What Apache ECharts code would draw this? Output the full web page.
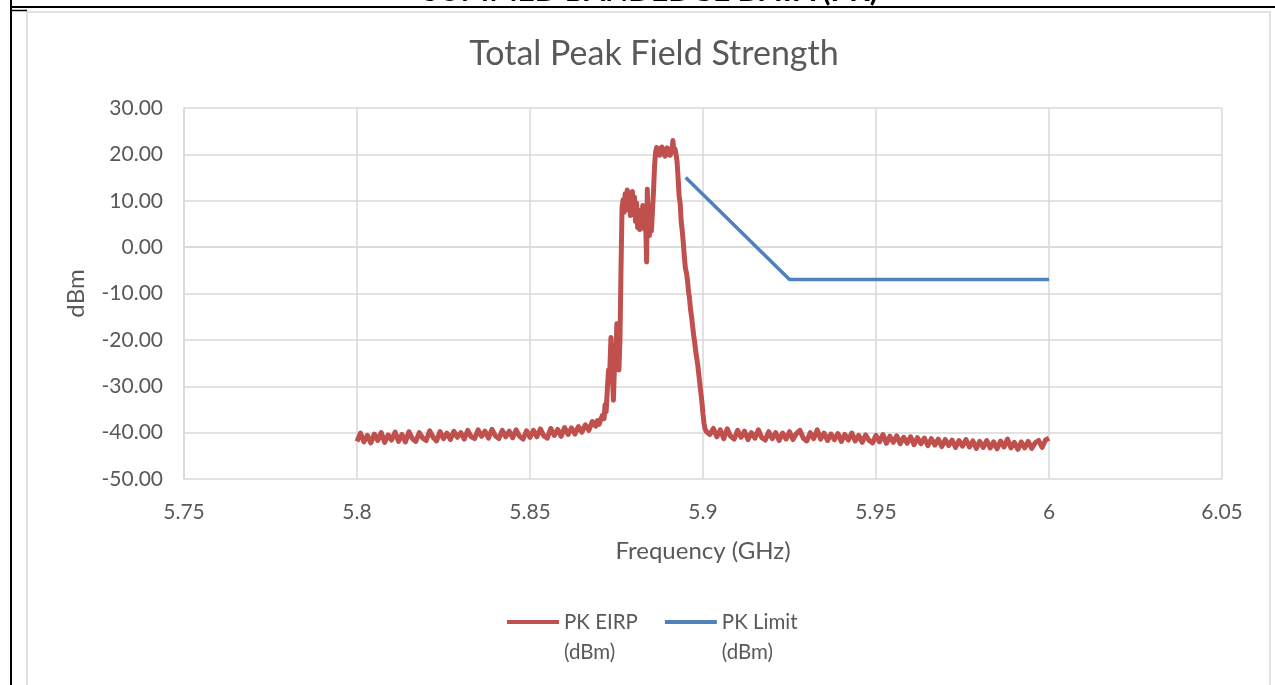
<!DOCTYPE html>
<html>
<head>
<meta charset="utf-8">
<script src="https://cdn.jsdelivr.net/npm/echarts@6/dist/echarts.min.js"></script>
<style>
  html, body { margin: 0; padding: 0; background: #fff; }
  #chart { width: 1275px; height: 685px; }
</style>
</head>
<body>
<div id="chart"></div>
<script>
// sweep grid of the flat parts of the trace (GHz)
var leftStart = 5.800, rightStart = 5.902, sweepStep = 0.001;

// PK EIRP (dBm), 5.800 .. 5.868
var eirpLeft = [
  -41.9, -40.1, -42.0, -40.6, -42.2, -40.3, -41.7, -40.0, -42.1, -40.5,
  -41.6, -39.9, -41.9, -40.4, -42.0, -39.8, -41.3, -41.9, -40.0, -41.2,
  -41.7, -39.6, -41.0, -41.8, -39.8, -41.3, -40.1, -41.5, -39.7, -41.0,
  -40.0, -41.4, -39.5, -40.9, -41.3, -39.4, -40.8, -39.7, -41.2, -39.3,
  -40.7, -41.3, -39.5, -40.9, -39.7, -41.1, -39.4, -40.8, -41.4, -39.6,
  -41.0, -39.5, -40.9, -39.2, -40.7, -41.2, -39.1, -40.6, -39.3, -40.8,
  -38.9, -40.4, -39.0, -40.3, -38.7, -39.9, -38.3, -39.5, -37.6
];

// PK EIRP around the channel, read point by point
var peakFreq = [
  5.8690, 5.8695, 5.8700, 5.8705, 5.8710, 5.8714, 5.8717, 5.8720, 5.8724, 5.8727,
  5.8730, 5.8734, 5.8737, 5.8741, 5.8744, 5.8748, 5.8751, 5.8754, 5.8757, 5.8760,
  5.8763, 5.8766, 5.8769, 5.8772, 5.8775, 5.8778, 5.8781, 5.8784, 5.8787, 5.8790,
  5.8793, 5.8796, 5.8799, 5.8802, 5.8805, 5.8808, 5.8811, 5.8814, 5.8817, 5.8820,
  5.8823, 5.8826, 5.8829, 5.8832, 5.8835, 5.8837, 5.8839, 5.8842, 5.8845, 5.8848,
  5.8851, 5.8854, 5.8857, 5.8860, 5.8863, 5.8866, 5.8869, 5.8872, 5.8875, 5.8878,
  5.8881, 5.8884, 5.8887, 5.8890, 5.8893, 5.8896, 5.8899, 5.8902, 5.8905, 5.8908,
  5.8911, 5.8913, 5.8916, 5.8919, 5.8922, 5.8925, 5.8928, 5.8931, 5.8934, 5.8937,
  5.8940, 5.8943, 5.8946, 5.8949, 5.8952, 5.8955, 5.8958, 5.8961, 5.8964, 5.8967,
  5.8970, 5.8973, 5.8976, 5.8979, 5.8982, 5.8985, 5.8988, 5.8991, 5.8994, 5.8997,
  5.9000, 5.9003, 5.9006, 5.9010
];
var peakVals = [
  -38.6, -37.4, -38.2, -37.0, -36.2, -37.0, -34.0, -35.5, -30.0, -26.5,
  -28.0, -19.5, -25.0, -33.0, -26.0, -24.5, -16.5, -22.0, -26.5, -20.0,
  -5.0, 8.5, 10.2, 7.5, 11.5, 9.0, 12.3, 8.0, 11.8, 6.8,
  10.5, 12.0, 7.0, 10.8, 5.5, 9.5, 4.2, 8.0, 3.8, 7.2,
  5.0, 9.0, 4.0, 6.0, 3.0, -3.2, 12.5, 5.0, 2.5, 6.5,
  3.5, 8.0, 12.0, 17.5, 20.5, 21.5, 20.0, 21.3, 19.8, 20.9,
  21.6, 20.2, 21.0, 19.6, 20.8, 21.4, 20.0, 21.1, 19.8, 20.7,
  21.5, 23.0, 20.5, 21.2, 20.0, 18.5, 15.0, 11.0, 9.5, 5.5,
  3.5, 1.0, -2.0, -4.5, -5.5, -7.0, -9.5, -11.0, -13.5, -15.0,
  -17.0, -19.0, -20.5, -22.5, -24.0, -25.5, -27.5, -29.5, -31.5, -33.5,
  -36.0, -38.0, -39.2, -39.8
];

// PK EIRP (dBm), 5.902 .. 6.000
var eirpRight = [
  -40.4, -39.1, -40.9, -39.4, -41.3, -39.2, -40.8, -41.4, -39.5, -41.0,
  -39.7, -41.5, -40.0, -41.2, -39.4, -41.1, -41.6, -39.8, -41.3, -40.0,
  -41.7, -40.1, -41.4, -39.8, -41.5, -40.2, -39.5, -41.2, -41.8, -40.0,
  -41.3, -39.4, -41.4, -40.1, -41.7, -40.3, -41.5, -40.2, -41.9, -40.4,
  -41.6, -40.1, -41.8, -40.6, -42.1, -40.5, -41.7, -42.2, -40.6, -42.0,
  -40.4, -42.3, -40.8, -42.1, -40.7, -42.4, -41.0, -42.3, -40.9, -42.6,
  -41.1, -42.4, -41.2, -42.8, -41.3, -42.7, -41.4, -43.0, -41.5, -42.8,
  -41.6, -43.2, -41.7, -42.9, -41.5, -43.1, -41.8, -43.4, -41.9, -43.2,
  -41.7, -43.3, -42.0, -43.5, -41.8, -43.1, -41.4, -43.3, -42.1, -43.6,
  -42.0, -43.3, -41.9, -43.4, -42.2, -41.7, -43.2, -41.6, -41.2
];

// PK Limit (dBm)
var limitFreq = [5.895, 5.925, 6.000];
var limitVals = [15, -7, -7];

var xTicks = { min: 5.75, max: 6.05, interval: 0.05 };
var yTicks = { min: -50, max: 30, interval: 10 };

var eirpData = [];
eirpLeft.forEach(function (v, i) { eirpData.push([+(leftStart + i * sweepStep).toFixed(4), v]); });
peakFreq.forEach(function (f, i) { eirpData.push([f, peakVals[i]]); });
eirpRight.forEach(function (v, i) { eirpData.push([+(rightStart + i * sweepStep).toFixed(4), v]); });
var limitData = limitFreq.map(function (f, i) { return [f, limitVals[i]]; });

var FONT = 'Lato';
var GREY_TXT = '#595959';
var GRID_CLR = '#d9d9d9';

var chart = echarts.init(document.getElementById('chart'));
chart.setOption({
  animation: false,
  backgroundColor: '#fff',
  textStyle: { fontFamily: FONT },
  title: {
    text: 'Total Peak Field Strength',
    left: 649, top: 32, textAlign: 'center',
    textStyle: { fontFamily: FONT, fontSize: 34, fontWeight: 'normal', color: GREY_TXT }
  },
  legend: {
    left: 502, top: 572,
    itemWidth: 52, itemHeight: 4, itemGap: 27,
    icon: 'rect',
    data: ['PK EIRP', 'PK Limit'],
    // blank first line keeps the name on the icon row, unit below
    formatter: function (name) { return '\u00a0\n' + name + '\n(dBm)'; },
    textStyle: { fontFamily: FONT, fontSize: 20.5, color: GREY_TXT, lineHeight: 30 }
  },
  grid: { left: 184, right: 53, top: 108, bottom: 206 },
  xAxis: {
    type: 'value',
    min: xTicks.min, max: xTicks.max, interval: xTicks.interval,
    name: 'Frequency (GHz)', nameLocation: 'middle', nameGap: 60,
    nameTextStyle: { fontFamily: FONT, fontSize: 24, color: GREY_TXT },
    axisLine: { show: true, lineStyle: { color: GRID_CLR, width: 1.5 } },
    axisTick: { show: false },
    axisLabel: { margin: 23, fontFamily: FONT, fontSize: 21, color: GREY_TXT,
      formatter: function (v) { return String(+v.toFixed(2)); } },
    splitLine: { show: true, lineStyle: { color: GRID_CLR, width: 1.5 } }
  },
  yAxis: {
    type: 'value',
    min: yTicks.min, max: yTicks.max, interval: yTicks.interval,
    name: 'dBm', nameLocation: 'middle', nameGap: 96, nameRotate: 90,
    nameTextStyle: { fontFamily: FONT, fontSize: 24, color: GREY_TXT },
    axisLine: { show: true, lineStyle: { color: GRID_CLR, width: 1.5 } },
    axisTick: { show: false },
    axisLabel: { margin: 21, fontFamily: FONT, fontSize: 21, color: GREY_TXT,
      formatter: function (v) { return v.toFixed(2); } },
    splitLine: { show: true, lineStyle: { color: GRID_CLR, width: 1.5 } }
  },
  series: [
    {
      name: 'PK EIRP', type: 'line', data: eirpData,
      showSymbol: false, color: '#C0504D',
      lineStyle: { width: 5, color: '#C0504D', join: 'round' }
    },
    {
      name: 'PK Limit', type: 'line', data: limitData,
      showSymbol: false, color: '#4F81BD',
      lineStyle: { width: 3.5, color: '#4F81BD' }
    }
  ],
  graphic: [
    { type: 'rect', silent: true, shape: { x: 27, y: 12, width: 1243, height: 700 },
      style: { fill: 'none', stroke: GRID_CLR, lineWidth: 1.5 } },
    { type: 'line', silent: true, shape: { x1: 11, y1: 7, x2: 1275, y2: 7 },
      style: { stroke: '#000', lineWidth: 2 } },
    { type: 'line', silent: true, shape: { x1: 11, y1: 0, x2: 11, y2: 685 },
      style: { stroke: '#000', lineWidth: 2 } },
    { type: 'line', silent: true, shape: { x1: 11, y1: 10.5, x2: 27, y2: 10.5 },
      style: { stroke: '#000', lineWidth: 1.5 } },
    { type: 'text', silent: true, x: 650, y: 6,
      style: { text: 'SUMMED BANDEDGE DATA (PK)', fill: '#000', fontFamily: FONT,
        fontSize: 30, fontWeight: 'bold', align: 'center', verticalAlign: 'bottom' } }
  ]
});
</script>
</body>
</html>
